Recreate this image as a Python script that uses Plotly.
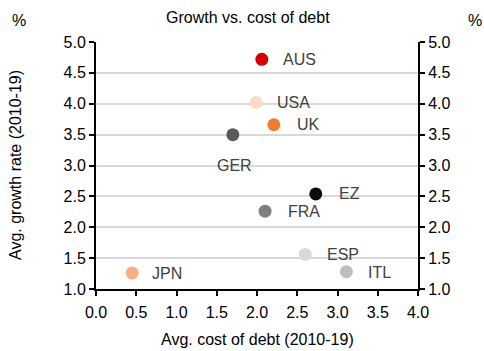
import plotly.graph_objects as go

# Average cost of debt vs average growth rate, 2010-19 (%)
countries = ["AUS", "USA", "UK", "GER", "EZ", "FRA", "ESP", "ITL", "JPN"]
cost_of_debt = [2.06, 1.99, 2.21, 1.70, 2.73, 2.10, 2.60, 3.11, 0.45]
growth_rate = [4.72, 4.02, 3.66, 3.50, 2.54, 2.26, 1.56, 1.28, 1.26]

colors = ["#d40000", "#fadbc8", "#ed7d31", "#595959", "#0d0d0d",
          "#7f7f7f", "#d9d9d9", "#bfbfbf", "#f4b183"]
# label offsets in pixels relative to each marker
label_dx = [19, 19, 21, -18, 21, 21, 20, 20, 18]
label_dy = [0, 0, 0, -31, 0, 0, 0, -1, -1]

FONT = "Liberation Sans, Arial, sans-serif"
TXT = "#404040"
FS = 16

fig = go.Figure()
fig.add_trace(go.Scatter(
    x=cost_of_debt, y=growth_rate, mode="markers",
    marker=dict(size=13, color=colors, line=dict(width=0)),
    showlegend=False, hoverinfo="skip",
))
# invisible trace so the right-hand axis is drawn
fig.add_trace(go.Scatter(x=[None], y=[None], yaxis="y2", showlegend=False))

for name, x, y, dx, dy in zip(countries, cost_of_debt, growth_rate, label_dx, label_dy):
    fig.add_annotation(x=x, y=y, text=name, showarrow=False,
                       xanchor="left", yanchor="middle", xshift=dx, yshift=dy,
                       font=dict(family=FONT, size=FS, color=TXT))

axis_common = dict(
    showline=True, linecolor="black", linewidth=2,
    ticks="outside", ticklen=5, tickwidth=2, tickcolor="black",
    tickfont=dict(family=FONT, size=FS, color="black"),
    zeroline=False, automargin=False,
)

fig.update_layout(
    width=484, height=351,
    margin=dict(l=96, r=66, t=42, b=62),
    paper_bgcolor="white", plot_bgcolor="white",
    font=dict(family=FONT, size=FS, color="black"),
    title=dict(text="Growth vs. cost of debt", x=0.512, xanchor="center",
               y=0.951, yanchor="middle", font=dict(family=FONT, size=FS, color="black")),
    xaxis=dict(range=[0, 4], dtick=0.5, tickformat=".1f", showgrid=False,
               ticklabelstandoff=3, **axis_common),
    yaxis=dict(range=[1, 5], dtick=0.5, tickformat=".1f", showgrid=True,
               gridcolor="#d9d9d9", gridwidth=2, **axis_common),
    yaxis2=dict(range=[1, 5], dtick=0.5, tickformat=".1f", overlaying="y",
                side="right", showgrid=False, **axis_common),
)

# axis titles
fig.add_annotation(text="Avg. cost of debt (2010-19)", xref="paper", yref="paper",
                   x=0.5, y=-0.206, xanchor="center", yanchor="middle",
                   showarrow=False, font=dict(family=FONT, size=FS, color="black"))
fig.add_annotation(text="Avg. growth rate (2010-19)", xref="paper", yref="paper",
                   x=-0.2516, y=0.502, xanchor="center", yanchor="middle",
                   textangle=-90, showarrow=False,
                   font=dict(family=FONT, size=FS, color="black"))

# unit labels above both y axes
fig.add_annotation(text="%", xref="paper", yref="paper", x=-0.239, y=1.089,
                   xanchor="center", yanchor="middle", showarrow=False,
                   font=dict(family=FONT, size=FS, color="black"))
fig.add_annotation(text="%", xref="paper", yref="paper", x=1.178, y=1.089,
                   xanchor="center", yanchor="middle", showarrow=False,
                   font=dict(family=FONT, size=FS, color="black"))

fig.write_html("out.html")
